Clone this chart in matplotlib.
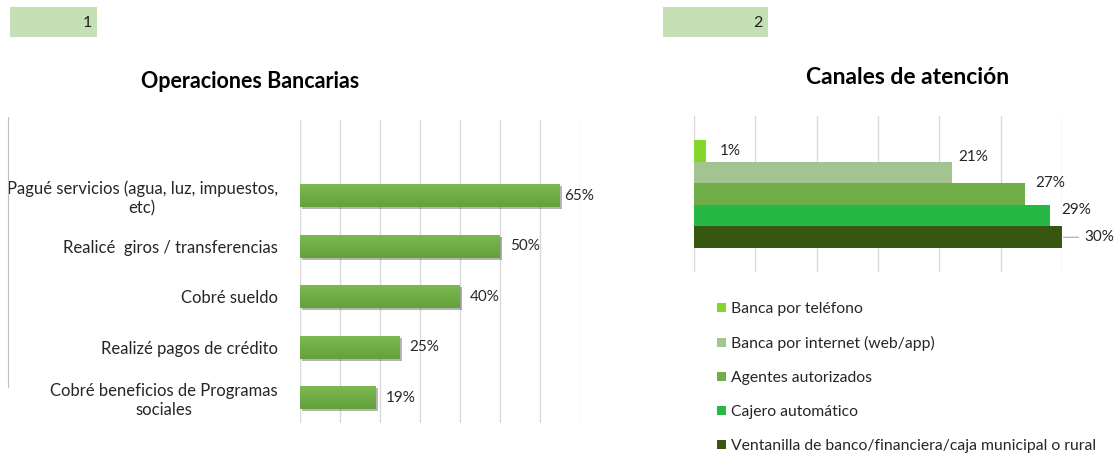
import matplotlib
matplotlib.use('Agg')
import matplotlib.pyplot as plt
import matplotlib.patheffects as pe
import numpy as np
from matplotlib.colors import LinearSegmentedColormap
from matplotlib.lines import Line2D
from matplotlib.patches import Rectangle

plt.rcParams['font.family'] = ['Lato', 'DejaVu Sans']

# chart 1 data
operaciones = ['Pagué servicios (agua, luz, impuestos,\netc)',
               'Realicé  giros / transferencias',
               'Cobré sueldo',
               'Realizé pagos de crédito',
               'Cobré beneficios de Programas\nsociales']
operaciones_pct = [65, 50, 40, 25, 19]

# chart 2 data
canales = ['Banca por teléfono',
           'Banca por internet (web/app)',
           'Agentes autorizados',
           'Cajero automático',
           'Ventanilla de banco/financiera/caja municipal o rural']
canales_pct = [1, 21, 27, 29, 30]
canales_colors = ['#84d62a', '#a3c490', '#70ad47', '#25b845', '#37560f']

W, H = 1118, 455
fig = plt.figure(figsize=(W / 100, H / 100), dpi=100)
grid_c = '#d9d9d9'
txt_c = '#262626'

def px_axes(x0, y0, x1, y1):
    return fig.add_axes([x0 / W, 1 - y1 / H, (x1 - x0) / W, (y1 - y0) / H])

# header boxes
for x0, x1, txt in [(10, 97, '1'), (663, 768, '2')]:
    fig.add_artist(Rectangle((x0 / W, 1 - 37 / H), (x1 - x0) / W, 30 / H,
                             transform=fig.transFigure, color='#c5e0b4', lw=0))
    fig.text((x1 - 5) / W, 1 - 23 / H, txt, ha='right', va='center', fontsize=11.5, color='#222222')

fig.text(250 / W, 1 - 81 / H, 'Operaciones Bancarias', ha='center', va='center',
         fontsize=15.5, fontweight='bold')
fig.text(908 / W, 1 - 77 / H, 'Canales de atención', ha='center', va='center',
         fontsize=16.5, fontweight='bold')

# thin border fragment at the left
fig.add_artist(Line2D([8 / W, 8 / W], [1 - 117 / H, 1 - 387 / H], color='#bfbfbf', lw=0.8))

# ---- chart 1
ax1 = px_axes(300, 120, 580, 423)
ypos = list(range(len(operaciones)))[::-1]
bh = 0.46
bars = ax1.barh(ypos, operaciones_pct, height=bh, color='#70ad47', zorder=3)
grad = LinearSegmentedColormap.from_list('g', ['#64a03c', '#7cba52'])
for b, y, v in zip(bars, ypos, operaciones_pct):
    b.set_path_effects([pe.SimplePatchShadow(offset=(1.5, -1.5), alpha=0.35), pe.Normal()])
    im = ax1.imshow(np.linspace(0, 1, 50).reshape(-1, 1), cmap=grad, aspect='auto',
                    origin='lower', extent=(0, v, y - bh / 2, y + bh / 2), zorder=4)
    im.set_clip_path(b)
for y, v in zip(ypos, operaciones_pct):
    pad = 3 if v > 60 else 7
    ax1.annotate(f'{v}%', (v, y), xytext=(pad, 0), textcoords='offset points',
                 va='center', ha='left', fontsize=11, color=txt_c)
ax1.set_xlim(0, 70)
ax1.set_ylim(-0.5, 5.5)
ax1.set_xticks(range(0, 71, 10))
ax1.set_xticklabels([])
ax1.set_yticks(ypos)
ax1.set_yticklabels(operaciones, fontsize=12, multialignment='center', color=txt_c)
ax1.tick_params(length=0, pad=16)
ax1.grid(axis='x', color=grid_c, lw=1, zorder=0)
for s in ax1.spines.values():
    s.set_visible(False)

# ---- chart 2
ax2 = px_axes(694, 116, 1062, 272)
h = 0.1385
offsets = [(14, 0), (7, 11), (10, 8), (12, 4), (22, 0)]
handles = []
for i, (lab, v, c) in enumerate(zip(canales, canales_pct, canales_colors)):
    y = (2 - i) * h
    b = ax2.barh(y, v, height=h, color=c, zorder=3, label=lab)
    handles.append(b)
    dx, dy = offsets[i]
    arrow = None
    if i == len(canales) - 1:
        arrow = dict(arrowstyle='-', color='#a6a6a6', lw=0.8, shrinkA=2, shrinkB=1)
    ax2.annotate(f'{v}%', (v, y), xytext=(dx * 0.72, dy), textcoords='offset points',
                 va='center', ha='left', fontsize=11, color=txt_c, arrowprops=arrow)
ax2.set_xlim(0, 30)
ax2.set_ylim(-0.5, 0.5)
ax2.set_xticks(range(0, 31, 5))
ax2.set_xticklabels([])
ax2.set_yticks([])
ax2.tick_params(length=0)
ax2.grid(axis='x', color=grid_c, lw=1, zorder=0)
for s in ax2.spines.values():
    s.set_visible(False)

fig.legend(handles=handles, labels=canales, loc='upper left',
           bbox_to_anchor=(717 / W, 1 - 302 / H), frameon=False, fontsize=11.3,
           handlelength=0.55, handleheight=0.55, handletextpad=0.35,
           labelspacing=1.27, borderpad=0, borderaxespad=0)
for t in fig.legends[0].get_texts():
    t.set_color(txt_c)

fig.savefig('out.png', dpi=100)
